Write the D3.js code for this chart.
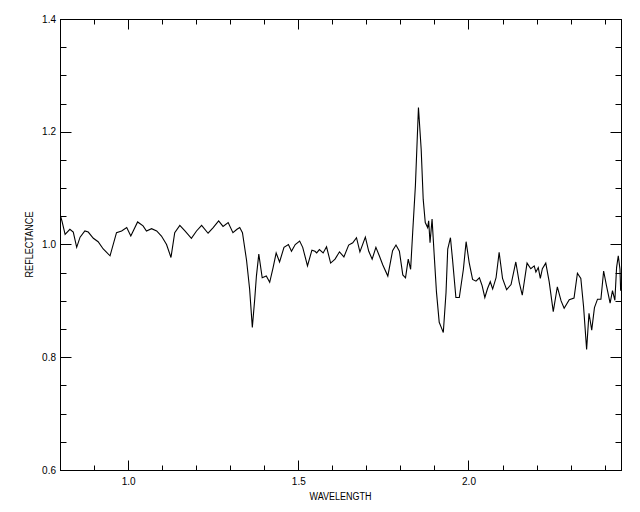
<!DOCTYPE html>
<html>
<head>
<meta charset="utf-8">
<script src="https://cdn.jsdelivr.net/npm/d3@7"></script>
<style>
  body { margin: 0; background: #fff; }
  text { font-family: "Liberation Sans", Arial, sans-serif; font-size: 10px; fill: #000; }
</style>
</head>
<body>
<div id="chart"></div>
<script>
// spectrum
const wavelength = [0.801,0.806,0.815,0.829,0.839,0.849,0.859,0.873,0.883,0.898,0.912,0.927,0.947,0.966,0.981,0.996,
  1.008,1.028,1.044,1.054,1.069,1.084,1.098,1.113,1.126,1.137,1.152,1.167,1.186,1.201,1.216,1.235,1.250,1.266,1.279,
  1.294,1.308,1.320,1.328,1.336,1.348,1.357,1.365,1.372,1.377,1.384,1.394,1.406,1.416,1.426,1.435,1.445,1.458,1.471,
  1.480,1.491,1.504,1.513,1.527,1.540,1.549,1.554,1.562,1.573,1.583,1.595,1.608,1.621,1.634,1.648,1.660,1.671,1.681,
  1.697,1.707,1.717,1.728,1.738,1.748,1.763,1.777,1.787,1.797,1.807,1.815,1.823,1.830,1.836,1.844,1.853,1.861,1.867,
  1.873,1.880,1.883,1.887,1.893,1.900,1.906,1.914,1.920,1.926,1.934,1.939,1.947,1.953,1.963,1.973,1.985,1.993,2.002,
  2.012,2.022,2.032,2.040,2.048,2.056,2.064,2.071,2.081,2.090,2.100,2.112,2.125,2.139,2.149,2.158,2.172,2.183,2.193,
  2.198,2.205,2.211,2.217,2.227,2.237,2.249,2.261,2.272,2.281,2.296,2.310,2.320,2.330,2.338,2.347,2.354,2.362,2.370,
  2.379,2.389,2.397,2.405,2.416,2.423,2.430,2.435,2.440,2.445,2.447];
const reflectance = [1.052,1.041,1.018,1.027,1.022,0.995,1.013,1.024,1.022,1.011,1.005,0.992,0.980,1.021,1.024,1.030,
  1.015,1.040,1.033,1.024,1.028,1.024,1.015,1.000,0.977,1.021,1.034,1.024,1.011,1.024,1.034,1.020,1.030,1.042,1.032,
  1.039,1.021,1.027,1.030,1.021,0.972,0.921,0.853,0.903,0.944,0.983,0.941,0.944,0.933,0.959,0.985,0.969,0.995,1.000,
  0.988,1.000,1.006,0.995,0.962,0.990,0.988,0.985,0.991,0.985,0.996,0.967,0.974,0.987,0.978,0.999,1.003,1.012,0.987,
  1.013,0.988,0.974,0.995,0.980,0.964,0.944,0.989,0.999,0.988,0.946,0.941,0.974,0.956,1.021,1.104,1.243,1.169,1.080,
  1.039,1.030,1.042,1.003,1.045,0.974,0.915,0.862,0.853,0.844,0.915,0.992,1.012,0.974,0.906,0.906,0.956,1.005,0.968,
  0.938,0.935,0.941,0.927,0.906,0.922,0.934,0.921,0.941,0.986,0.940,0.920,0.929,0.969,0.933,0.910,0.967,0.957,0.962,
  0.951,0.959,0.940,0.957,0.967,0.934,0.881,0.925,0.900,0.887,0.902,0.905,0.949,0.940,0.890,0.814,0.878,0.848,0.888,
  0.903,0.903,0.953,0.928,0.896,0.918,0.901,0.959,0.980,0.956,0.918];

const xMajor = [1.0, 1.5, 2.0];
const xMinor = [0.9, 1.1, 1.2, 1.3, 1.4, 1.6, 1.7, 1.8, 1.9, 2.1, 2.2, 2.3, 2.4];
const yMajor = [0.6, 0.8, 1.0, 1.2, 1.4];
const yMinor = [0.65, 0.7, 0.75, 0.85, 0.9, 0.95, 1.05, 1.1, 1.15, 1.25, 1.3, 1.35];

const W = 640, H = 512;
const L = 60, R = 621, T = 19, B = 470;

const svg = d3.select("#chart").append("svg")
  .attr("width", W).attr("height", H);

svg.append("rect").attr("width", W).attr("height", H).attr("fill", "#fff");

const x = d3.scaleLinear().domain([0.8, 2.448]).range([L, R]);
const y = d3.scaleLinear().domain([0.6, 1.4]).range([B, T]);

// tick labels from d3 axes
svg.append("g").attr("transform", `translate(0,${B})`)
  .call(d3.axisBottom(x).tickValues(xMajor).tickSize(0).tickPadding(8).tickFormat(d3.format(".1f")))
  .call(g => g.select(".domain").remove());
svg.append("g").attr("transform", `translate(${L},0)`)
  .call(d3.axisLeft(y).tickValues(yMajor).tickSize(0).tickPadding(4).tickFormat(d3.format(".1f")))
  .call(g => g.select(".domain").remove());
svg.selectAll(".tick text").attr("font-family", null).attr("font-size", null);

// inward ticks on all four sides, one path per side
const xTicks = xMajor.map(v => ({ v, len: 10 })).concat(xMinor.map(v => ({ v, len: 5 })));
const yTicks = yMajor.map(v => ({ v, len: 11 })).concat(yMinor.map(v => ({ v, len: 6 })));

const tickPath = (ticks, pos, fixed, dir, vertical) => ticks.map(d => {
  const p = Math.round(pos(d.v)) + 0.5;
  return vertical
    ? `M${p},${fixed}V${fixed + dir * d.len}`
    : `M${fixed},${p}H${fixed + dir * d.len}`;
}).join("");

const tickSides = [
  tickPath(xTicks, x, B + 0.5, -1, true),
  tickPath(xTicks, x, T + 0.5, 1, true),
  tickPath(yTicks, y, L + 0.5, 1, false),
  tickPath(yTicks, y, R + 0.5, -1, false)
];
svg.append("g").selectAll("path").data(tickSides).join("path")
  .attr("d", d => d)
  .attr("fill", "none")
  .attr("stroke", "#000")
  .attr("stroke-width", 1);

// frame
svg.append("rect")
  .attr("x", L + 0.5).attr("y", T + 0.5).attr("width", R - L).attr("height", B - T)
  .attr("fill", "none").attr("stroke", "#000");

svg.append("clipPath").attr("id", "plot")
  .append("rect").attr("x", L).attr("y", T).attr("width", R - L).attr("height", B - T);

const line = d3.line()
  .x((d, i) => x(wavelength[i]))
  .y(d => y(d));

svg.append("path")
  .datum(reflectance)
  .attr("clip-path", "url(#plot)")
  .attr("d", line)
  .attr("fill", "none")
  .attr("stroke", "#000")
  .attr("stroke-width", 1.1);

// axis titles
svg.append("text")
  .attr("x", (L + R) / 2).attr("y", 500)
  .attr("text-anchor", "middle")
  .attr("textLength", 62).attr("lengthAdjust", "spacingAndGlyphs")
  .text("WAVELENGTH");

svg.append("text")
  .attr("transform", `translate(33,${(T + B) / 2}) rotate(-90)`)
  .attr("text-anchor", "middle")
  .attr("textLength", 66).attr("lengthAdjust", "spacingAndGlyphs")
  .text("REFLECTANCE");
</script>
</body>
</html>
